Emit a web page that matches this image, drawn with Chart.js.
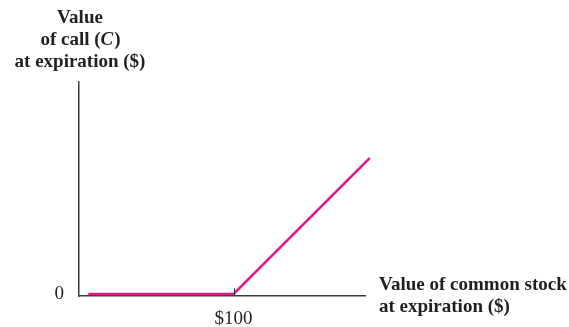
<!DOCTYPE html>
<html>
<head>
<meta charset="utf-8">
<script src="https://cdn.jsdelivr.net/npm/chart.js@4/dist/chart.umd.min.js"></script>
<style>
  html, body { margin: 0; padding: 0; background: #fff; }
  #wrap { width: 569px; height: 327px; position: relative; }
</style>
</head>
<body>
<div id="wrap"><canvas id="payoff"></canvas></div>
<script>
// payoff of a call at expiration, strike $100
var stockPrice = [6, 100, 188];
var callValue = [0, 0, 88];
var xTicks = [100];
var yTicks = [0];
var strikeLabel = '$100';

var ink = '#231f20';
var axisGray = '#3a3a3a';
var pink = '#e6168a';
var serif = '"Liberation Serif", "Times New Roman", serif';

// axis captions, drawn on the canvas next to the axes
var captions = {
    id: 'captions',
    afterDraw: function(chart) {
        var ctx = chart.ctx;
        ctx.save();
        ctx.fillStyle = ink;
        ctx.textBaseline = 'alphabetic';
        var bold = 'bold 19px ' + serif;
        var boldIt = 'italic bold 19px ' + serif;

        ctx.font = bold;
        ctx.textAlign = 'center';
        ctx.fillText('Value', 80, 23);
        ctx.fillText('at expiration ($)', 80, 67);

        // "of call (C)" with an italic C
        ctx.textAlign = 'left';
        var a = 'of call (', b = 'C', c = ')';
        ctx.font = bold; var wa = ctx.measureText(a).width, wc = ctx.measureText(c).width;
        ctx.font = boldIt; var wb = ctx.measureText(b).width;
        var x0 = 80 - (wa + wb + wc) / 2;
        ctx.font = bold; ctx.fillText(a, x0, 45);
        ctx.font = boldIt; ctx.fillText(b, x0 + wa, 45);
        ctx.font = bold; ctx.fillText(c, x0 + wa + wb + 1, 45);

        ctx.font = bold;
        ctx.fillText('Value of common stock', 379, 290);
        ctx.fillText('at expiration ($)', 379, 312);

        // small tick at the strike, pointing up into the plot
        var xs = chart.scales.x, ys = chart.scales.y;
        var px = Math.round(xs.getPixelForValue(xTicks[0])) + 0.5;
        ctx.strokeStyle = axisGray;
        ctx.lineWidth = 1;
        ctx.beginPath();
        ctx.moveTo(px, ys.bottom);
        ctx.lineTo(px, ys.bottom - 8);
        ctx.stroke();
        ctx.restore();
    }
};

var ctx = document.getElementById('payoff').getContext('2d');
var chart = new Chart(ctx, {
    type: 'line',
    data: {
        datasets: [{
            data: stockPrice.map(function(s, i) { return {x: s, y: callValue[i]}; }),
            borderColor: pink,
            borderWidth: 2.5,
            pointRadius: 0,
            tension: 0,
            clip: false
        }]
    },
    options: {
        responsive: true,
        maintainAspectRatio: false,
        animation: false,
        layout: { padding: { left: 0, top: 82, right: 204, bottom: 0 } },
        plugins: { legend: { display: false }, tooltip: { enabled: false } },
        scales: {
            x: {
                type: 'linear',
                min: 0,
                max: 185,
                grid: { display: false, drawTicks: false },
                border: { display: true, color: axisGray, width: 1.5 },
                afterBuildTicks: function(scale) { scale.ticks = xTicks.map(function(v) { return {value: v}; }); },
                afterFit: function(scale) { scale.height = 31; },
                ticks: {
                    padding: 12,
                    color: ink,
                    font: { family: serif, size: 19 },
                    callback: function() { return strikeLabel; }
                }
            },
            y: {
                min: -1.3,
                max: 137.2,
                grid: { display: false, drawTicks: false },
                border: { display: true, color: axisGray, width: 1.5 },
                afterBuildTicks: function(scale) { scale.ticks = yTicks.map(function(v) { return {value: v}; }); },
                afterFit: function(scale) { scale.width = 79; },
                ticks: {
                    padding: 15,
                    color: ink,
                    font: { family: serif, size: 19 }
                }
            }
        }
    },
    plugins: [captions]
});
</script>
</body>
</html>
